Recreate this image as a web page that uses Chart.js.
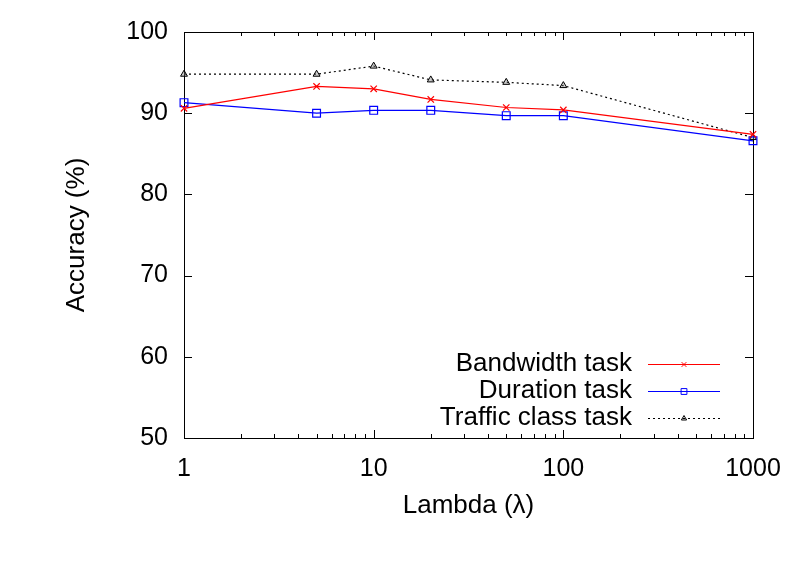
<!DOCTYPE html>
<html>
<head>
<meta charset="utf-8">
<script src="https://cdn.jsdelivr.net/npm/chart.js@4/dist/chart.umd.min.js"></script>
<style>
  html, body { margin: 0; padding: 0; background: #fff; }
  #c { display: block; }
</style>
</head>
<body>
<canvas id="c" width="803" height="578"></canvas>
<script>
// ---- data ----
const lambdas = [1, 5, 10, 20, 50, 100, 1000];
const bandwidthAcc = [90.6, 93.3, 93.0, 91.7, 90.7, 90.4, 87.4];
const durationAcc = [91.3, 90.0, 90.35, 90.35, 89.7, 89.7, 86.6];
const trafficAcc = [94.8, 94.8, 95.8, 94.1, 93.8, 93.4, 87.0];
const seriesNames = ['Bandwidth task', 'Duration task', 'Traffic class task'];
const xTickValues = [1, 10, 100, 1000];
const yTickValues = [50, 60, 70, 80, 90, 100];
const xTitle = 'Lambda (\u03bb)';
const yTitle = 'Accuracy (%)';

const FONT = '"Liberation Sans", Arial, Helvetica, sans-serif';
const toPts = (ys) => lambdas.map((x, i) => ({ x: x, y: ys[i] }));

// border + inward mirrored ticks (gnuplot style)
const frame = {
  id: 'frame',
  beforeDatasetsDraw(chart) {
    const { ctx, chartArea: a, scales: { x, y } } = chart;
    ctx.save();
    ctx.strokeStyle = '#000';
    ctx.lineWidth = 1;
    ctx.beginPath();
    yTickValues.forEach(v => {
      const p = Math.round(y.getPixelForValue(v)) + 0.5;
      ctx.moveTo(a.left, p); ctx.lineTo(a.left + 8, p);
      ctx.moveTo(a.right, p); ctx.lineTo(a.right - 8, p);
    });
    for (let d = 1; d <= 1000; d *= 10) {
      for (let m = 1; m <= 9; m++) {
        const v = d * m;
        if (v > 1000) break;
        const len = m === 1 ? 8 : 4;
        const p = Math.round(x.getPixelForValue(v)) + 0.5;
        ctx.moveTo(p, a.bottom); ctx.lineTo(p, a.bottom - len);
        ctx.moveTo(p, a.top); ctx.lineTo(p, a.top + len);
      }
    }
    ctx.stroke();
    ctx.strokeRect(Math.round(a.left) + 0.5, Math.round(a.top) + 0.5,
                   Math.round(a.right - a.left), Math.round(a.bottom - a.top));
    ctx.restore();
  }
};

// gnuplot-style key: text right-aligned, sample to the right
const key = {
  id: 'key',
  afterDatasetsDraw(chart) {
    const { ctx } = chart;
    const textRight = 632, x0 = 648, x1 = 720, rows = [364, 391, 418];
    chart.data.datasets.forEach((ds, i) => {
      const yy = rows[i];
      ctx.save();
      ctx.font = '26px ' + FONT;
      ctx.textAlign = 'right';
      ctx.textBaseline = 'middle';
      ctx.fillStyle = '#000';
      ctx.fillText(ds.label, textRight, yy);
      ctx.strokeStyle = ds.borderColor;
      ctx.lineWidth = ds.borderWidth;
      ctx.setLineDash(ds.borderDash || []);
      ctx.beginPath();
      ctx.moveTo(x0, yy + 0.5); ctx.lineTo(x1, yy + 0.5);
      ctx.stroke();
      ctx.setLineDash([]);
      ctx.strokeStyle = ds.pointBorderColor;
      ctx.fillStyle = 'rgba(0,0,0,0)';
      ctx.lineWidth = 1;
      Chart.helpers.drawPoint(ctx, {
        pointStyle: ds.pointStyle, radius: ds.pointRadius * 0.75,
        borderWidth: 1, rotation: 0
      }, (x0 + x1) / 2, yy + 0.5);
      ctx.restore();
    });
  }
};

new Chart(document.getElementById('c'), {
  type: 'line',
  data: {
    datasets: [
      {
        label: seriesNames[0], data: toPts(bandwidthAcc),
        borderColor: '#ff0000', borderWidth: 1.2,
        pointStyle: 'crossRot', pointRadius: 4.5, pointBorderColor: '#ff0000',
        pointBackgroundColor: 'rgba(0,0,0,0)', pointBorderWidth: 1.2,
        clip: false, tension: 0
      },
      {
        label: seriesNames[1], data: toPts(durationAcc),
        borderColor: '#0000ff', borderWidth: 1.2,
        pointStyle: 'rect', pointRadius: 5.5, pointBorderColor: '#0000ff',
        pointBackgroundColor: 'rgba(0,0,0,0)', pointBorderWidth: 1.2,
        clip: false, tension: 0
      },
      {
        label: seriesNames[2], data: toPts(trafficAcc),
        borderColor: '#000000', borderWidth: 1.2, borderDash: [2, 3],
        pointStyle: 'triangle', pointRadius: 4, pointBorderColor: '#000000',
        pointBackgroundColor: 'rgba(128,128,128,0.4)', pointBorderWidth: 1,
        clip: false, tension: 0
      }
    ]
  },
  options: {
    responsive: false,
    animation: false,
    devicePixelRatio: 1,
    layout: { padding: { left: 0, right: 50, top: 32, bottom: 0 } },
    plugins: { legend: { display: false }, tooltip: { enabled: false } },
    scales: {
      x: {
        type: 'logarithmic', min: 1, max: 1000,
        grid: { display: false, drawTicks: false },
        border: { display: false },
        afterBuildTicks: (s) => { s.ticks = xTickValues.map(v => ({ value: v, major: true })); },
        afterFit: (s) => { s.height = 140; },
        ticks: {
          padding: 16, color: '#000', maxRotation: 0, autoSkip: false,
          font: { family: FONT, size: 25 },
          callback: (v) => String(v)
        },
        title: {
          display: true, text: xTitle, color: '#000',
          font: { family: FONT, size: 26 }, padding: { top: 0, bottom: 57 }
        }
      },
      y: {
        type: 'linear', min: 50, max: 100,
        grid: { display: false, drawTicks: false },
        border: { display: false },
        afterBuildTicks: (s) => { s.ticks = yTickValues.map(v => ({ value: v })); },
        afterFit: (s) => { s.width = 184; },
        ticks: {
          padding: 16, color: '#000',
          font: { family: FONT, size: 25 }
        },
        title: {
          display: true, text: yTitle, color: '#000',
          font: { family: FONT, size: 26 }, padding: { top: 61, bottom: 0 }
        }
      }
    }
  },
  plugins: [frame, key]
});
</script>
</body>
</html>
